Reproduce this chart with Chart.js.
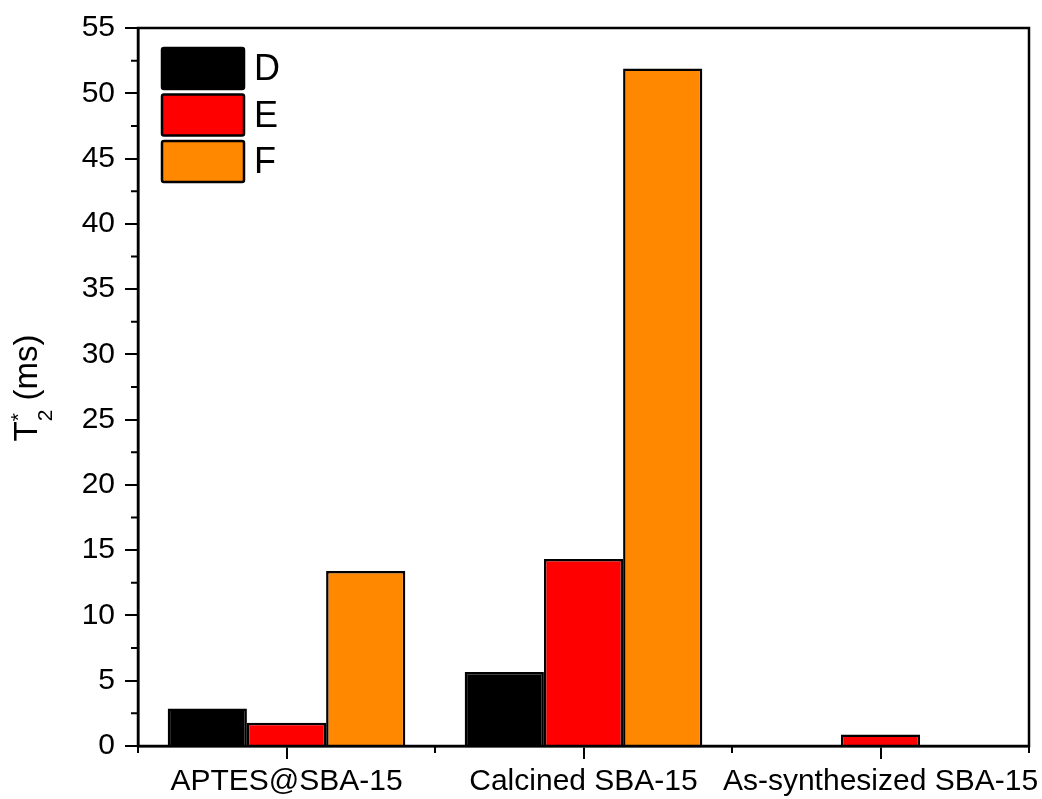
<!DOCTYPE html>
<html>
<head>
  <script src="https://cdn.jsdelivr.net/npm/chart.js@4/dist/chart.umd.min.js"></script>
  <style>
    html, body { margin: 0; padding: 0; background: #fff; }
    .chart-container { position: relative; width: 1042px; height: 799px; }
  </style>
</head>
<body>
  <div class="chart-container">
    <canvas id="t2Chart"></canvas>
  </div>

  <script>
    const samples = ['APTES@SBA-15', 'Calcined SBA-15', 'As-synthesized SBA-15'];
    const seriesNames = ['D', 'E', 'F'];
    const seriesColors = ['#000000', '#FF0000', '#FF8800'];
    const valuesD = [2.87, 5.67, null];
    const valuesE = [1.78, 14.32, 0.88];
    const valuesF = [13.4, 51.9, null];
    const yMin = 0, yMax = 55, yStep = 5;

    const FONT = '"Liberation Sans", Arial, sans-serif';

    // frame, minor ticks, inside legend and the T2* axis title
    const extras = {
      id: 'extras',
      afterDraw(chart) {
        const ctx = chart.ctx;
        const a = chart.chartArea;
        const x = chart.scales.x, y = chart.scales.y;
        ctx.save();
        ctx.strokeStyle = '#000';
        ctx.lineWidth = 2.5;
        ctx.strokeRect(a.left, a.top, a.right - a.left, a.bottom - a.top);

        // minor ticks
        ctx.lineWidth = 2;
        ctx.beginPath();
        for (let v = yMin + yStep / 2; v < yMax; v += yStep) {
          const py = y.getPixelForValue(v);
          ctx.moveTo(a.left, py);
          ctx.lineTo(a.left - 7, py);
        }
        const edges = [a.left];
        for (let i = 0; i < samples.length - 1; i++) {
          edges.push((x.getPixelForValue(i) + x.getPixelForValue(i + 1)) / 2);
        }
        edges.push(a.right);
        edges.forEach(px => {
          ctx.moveTo(px, a.bottom);
          ctx.lineTo(px, a.bottom + 7);
        });
        ctx.stroke();

        // legend
        chart.data.datasets.forEach((ds, i) => {
          const bx = 162, by = 48 + i * 46.5, bw = 82, bh = 41;
          ctx.fillStyle = ds.backgroundColor;
          ctx.beginPath();
          ctx.roundRect(bx, by, bw, bh, 2);
          ctx.fill();
          ctx.lineWidth = 2.5;
          ctx.stroke();
          ctx.fillStyle = '#000';
          ctx.font = '36px ' + FONT;
          ctx.textBaseline = 'middle';
          ctx.textAlign = 'left';
          ctx.fillText(ds.label, bx + bw + 10, by + bh / 2 + 2);
        });

        // y title: T2* (ms)
        ctx.translate(37, (a.top + a.bottom) / 2 + 1);
        ctx.rotate(-Math.PI / 2);
        ctx.textBaseline = 'alphabetic';
        ctx.textAlign = 'left';
        ctx.fillStyle = '#000';
        const big = '33px ' + FONT, small = '21px ' + FONT;
        ctx.font = big;
        const wT = ctx.measureText('T').width;
        const wRest = ctx.measureText(' (ms)').width;
        ctx.font = small;
        const wSub = Math.max(ctx.measureText('2').width, ctx.measureText('*').width);
        let sx = -(wT + wSub + wRest) / 2;
        ctx.font = big;
        ctx.fillText('T', sx, 0);
        sx += wT;
        ctx.font = small;
        ctx.fillText('2', sx, 15);
        ctx.fillText('*', sx, -12);
        sx += wSub;
        ctx.font = big;
        ctx.fillText(' (ms)', sx, 0);
        ctx.restore();
      }
    };

    const ctx = document.getElementById('t2Chart').getContext('2d');
    new Chart(ctx, {
      type: 'bar',
      data: {
        labels: samples,
        datasets: [valuesD, valuesE, valuesF].map((vals, i) => ({
          label: seriesNames[i],
          data: vals,
          backgroundColor: seriesColors[i],
          borderColor: '#000',
          borderWidth: 2.5,
          categoryPercentage: 0.8,
          barPercentage: 1.0
        }))
      },
      options: {
        responsive: true,
        maintainAspectRatio: false,
        animation: false,
        layout: { padding: { left: 0, right: 13, top: 28, bottom: 0 } },
        plugins: {
          legend: { display: false },
          tooltip: { enabled: false }
        },
        scales: {
          x: {
            afterFit(s) {
              s.height = 53;
              s.paddingLeft = 0;
              s.paddingRight = 0;
            },
            grid: {
              offset: false,
              drawOnChartArea: false,
              drawTicks: true,
              tickLength: 13,
              color: '#000',
              lineWidth: 2
            },
            border: { display: true, color: '#000', width: 2.5 },
            ticks: {
              color: '#000',
              padding: 5,
              maxRotation: 0,
              autoSkip: false,
              font: { family: FONT, size: 30 }
            }
          },
          y: {
            min: yMin,
            max: yMax,
            afterFit(s) { s.width = 138; },
            grid: {
              drawOnChartArea: false,
              drawTicks: true,
              tickLength: 13,
              color: '#000',
              lineWidth: 2
            },
            border: { display: true, color: '#000', width: 2.5 },
            ticks: {
              stepSize: yStep,
              color: '#000',
              padding: 10,
              font: { family: FONT, size: 30 }
            }
          }
        }
      },
      plugins: [extras]
    });
  </script>
</body>
</html>
